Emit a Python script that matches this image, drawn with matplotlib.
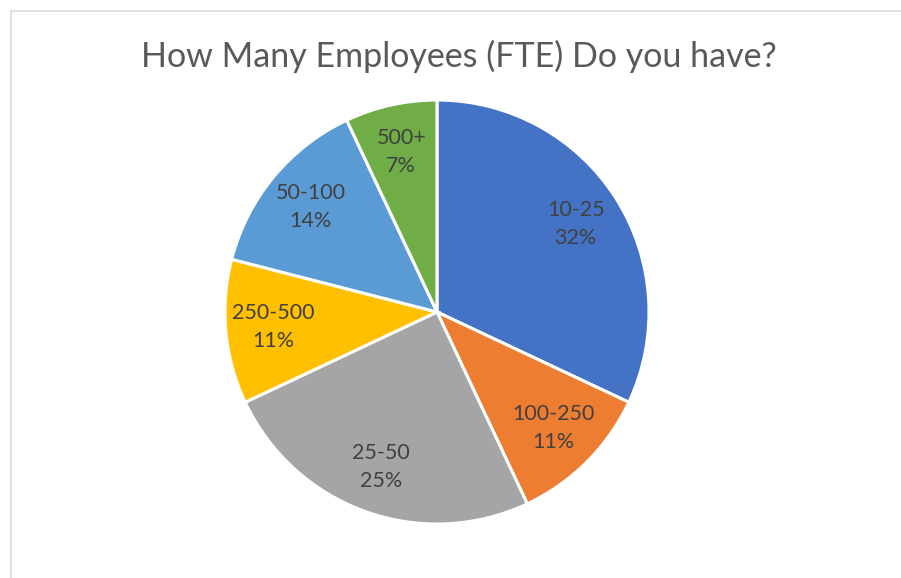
import matplotlib
matplotlib.use("Agg")
import numpy as np
import matplotlib.pyplot as plt
from matplotlib.patches import Rectangle

# survey answers, clockwise from 12 o'clock
sizes = ["10-25", "100-250", "25-50", "250-500", "50-100", "500+"]
shares = [32, 11, 25, 11, 14, 7]
colors = ["#4472C4", "#ED7D31", "#A5A5A5", "#FFC000", "#5B9BD5", "#70AD47"]

W, H = 901, 578
CX, CY, R = 437, H - 312, 212

fig = plt.figure(figsize=(W / 100, H / 100), dpi=100)
ax = fig.add_axes([0, 0, 1, 1])

wedges, texts = ax.pie(shares, colors=colors, startangle=90, counterclock=False,
                       center=(CX, CY), radius=R,
                       wedgeprops=dict(edgecolor="white", linewidth=2.2))

# pie() resets the limits, so set the pixel frame afterwards
ax.set_xlim(0, W)
ax.set_ylim(0, H)
ax.set_aspect("equal")
ax.axis("off")

# chart area frame
ax.add_patch(Rectangle((10.5, -20), W + 40, H - 11 + 20, fill=False,
                       edgecolor="#D9D9D9", linewidth=1.1))

for w, name, pct in zip(wedges, sizes, shares):
    ang = np.deg2rad((w.theta1 + w.theta2) / 2)
    r = 0.775 * R
    ax.text(CX + r * np.cos(ang), CY + r * np.sin(ang), f"{name}\n{pct}%",
            ha="center", va="center", fontsize=15.5, family="Lato",
            color="#404040", linespacing=1.5)

ax.text(459, H - 56, "How Many Employees (FTE) Do you have?", ha="center",
        va="center", fontsize=24.5, family="Lato", color="#595959")

fig.savefig("out.png", dpi=100)
